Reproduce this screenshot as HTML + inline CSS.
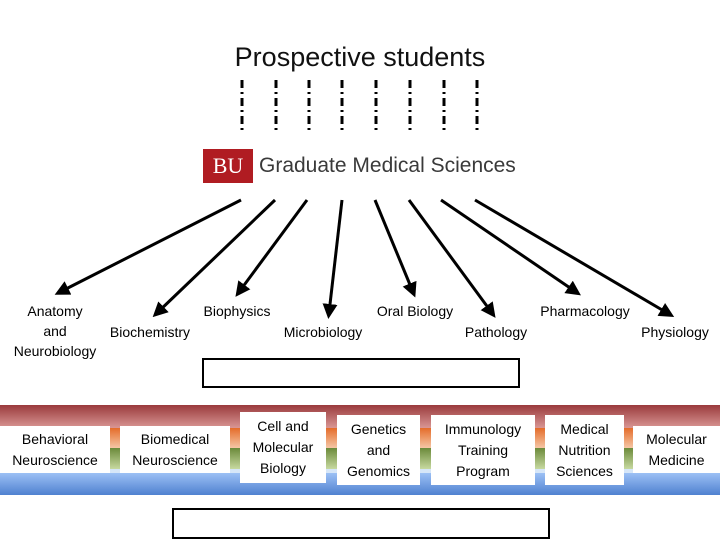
<!DOCTYPE html>
<html><head><style>
body{margin:0;width:720px;height:540px;background:#fff;position:relative;overflow:hidden;font-family:"Liberation Sans",sans-serif;color:#000}
.t{position:absolute;white-space:nowrap;font-size:14px;line-height:20px;text-align:center;transform:translateX(-50%)}
.box{position:absolute;background:#fff;display:flex;align-items:center;justify-content:center;text-align:center;font-size:14px;line-height:21px}
</style></head><body>
<div style="position:absolute;left:0;width:720px;top:42px;text-align:center;font-size:27px;color:#111;">Prospective students</div>
<svg width="720" height="540" style="position:absolute;left:0;top:0">
<defs>
<marker id="a" markerWidth="5" markerHeight="5" refX="3" refY="2.5" orient="auto" markerUnits="strokeWidth">
<path d="M0,0 L5,2.5 L0,5 z" fill="#000"/></marker>
<linearGradient id="r" x1="0" y1="0" x2="0" y2="1"><stop offset="0" stop-color="#9a3a3c"/><stop offset="1" stop-color="#d99694"/></linearGradient>
<linearGradient id="b" x1="0" y1="0" x2="0" y2="1"><stop offset="0" stop-color="#9cc0f5"/><stop offset="1" stop-color="#4f81d0"/></linearGradient>
<linearGradient id="o" x1="0" y1="0" x2="0" y2="1"><stop offset="0" stop-color="#e46c2a"/><stop offset="1" stop-color="#f5c6a5"/></linearGradient>
<linearGradient id="g" x1="0" y1="0" x2="0" y2="1"><stop offset="0" stop-color="#6b8a3a"/><stop offset="1" stop-color="#c7d9a0"/></linearGradient>
</defs>
<g stroke="#000" stroke-width="3" stroke-dasharray="8,4,2,4">
<line x1="242" y1="80" x2="242" y2="131"/><line x1="276" y1="80" x2="276" y2="131"/>
<line x1="309" y1="80" x2="309" y2="131"/><line x1="342" y1="80" x2="342" y2="131"/>
<line x1="376" y1="80" x2="376" y2="131"/><line x1="410" y1="80" x2="410" y2="131"/>
<line x1="444" y1="80" x2="444" y2="131"/><line x1="477" y1="80" x2="477" y2="131"/>
</g>
<g stroke="#000" stroke-width="3" marker-end="url(#a)">
<line x1="241" y1="200" x2="60" y2="292"/>
<line x1="275" y1="200" x2="157" y2="313"/>
<line x1="307" y1="200" x2="239" y2="292"/>
<line x1="342" y1="200" x2="329" y2="313"/>
<line x1="375" y1="200" x2="413" y2="292"/>
<line x1="409" y1="200" x2="492" y2="313"/>
<line x1="441" y1="200" x2="576" y2="292"/>
<line x1="475" y1="200" x2="669" y2="314"/>
</g>
<rect x="0" y="405" width="720" height="23" fill="url(#r)"/>
<rect x="0" y="428" width="720" height="20" fill="url(#o)"/>
<rect x="0" y="448" width="720" height="21" fill="url(#g)"/>
<rect x="0" y="469" width="720" height="4" fill="#d6e6f8"/>
<rect x="0" y="473" width="720" height="22" fill="url(#b)"/>
<rect x="203" y="359" width="316" height="28" fill="none" stroke="#000" stroke-width="2"/>
<rect x="173" y="509" width="376" height="29" fill="none" stroke="#000" stroke-width="2"/>
</svg>
<div style="position:absolute;left:203px;top:149px;width:50px;height:34px;background:#b01c22;color:#fff;font-family:'Liberation Serif',serif;font-size:22px;line-height:34px;text-align:center;">BU</div>
<div style="position:absolute;left:259px;top:154px;font-size:21px;color:#3a3a3a;">Graduate Medical Sciences</div>
<div class="t" style="left:55px;top:301px">Anatomy<br>and<br>Neurobiology</div>
<div class="t" style="left:150px;top:322px">Biochemistry</div>
<div class="t" style="left:237px;top:301px">Biophysics</div>
<div class="t" style="left:323px;top:322px">Microbiology</div>
<div class="t" style="left:415px;top:301px">Oral Biology</div>
<div class="t" style="left:496px;top:322px">Pathology</div>
<div class="t" style="left:585px;top:301px">Pharmacology</div>
<div class="t" style="left:675px;top:322px">Physiology</div>
<div class="box" style="left:0;top:426px;width:110px;height:47px">Behavioral<br>Neuroscience</div>
<div class="box" style="left:120px;top:426px;width:110px;height:47px">Biomedical<br>Neuroscience</div>
<div class="box" style="left:240px;top:412px;width:86px;height:71px">Cell and<br>Molecular<br>Biology</div>
<div class="box" style="left:337px;top:415px;width:83px;height:70px">Genetics<br>and<br>Genomics</div>
<div class="box" style="left:431px;top:415px;width:104px;height:70px">Immunology<br>Training<br>Program</div>
<div class="box" style="left:545px;top:415px;width:79px;height:70px">Medical<br>Nutrition<br>Sciences</div>
<div class="box" style="left:633px;top:426px;width:87px;height:47px">Molecular<br>Medicine</div>
</body></html>
